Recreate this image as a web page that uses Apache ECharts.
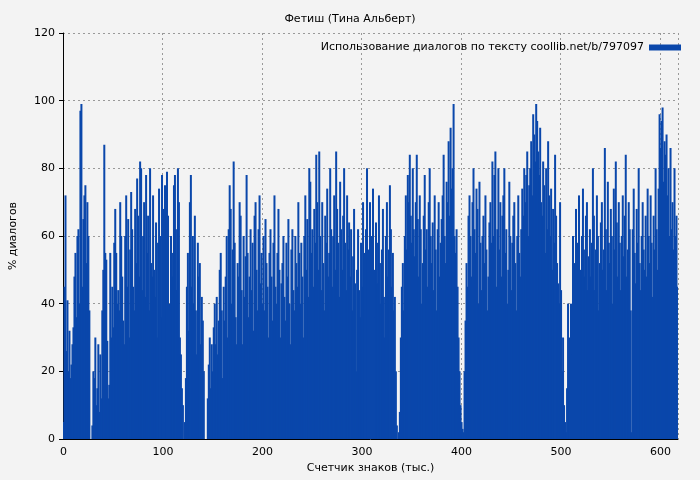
<!DOCTYPE html>
<html><head><meta charset="utf-8">
<script src="https://cdn.jsdelivr.net/npm/echarts@6/dist/echarts.min.js"></script>
<style>html,body{margin:0;padding:0;background:#f3f3f3}#c{width:700px;height:480px}</style>
</head><body><div id="c"></div>
<script>
const values = [
5,45,72,26,41,20,32,18,22,28,
33,48,55,36,60,62,40,97,99,45,
65,72,75,52,70,60,38,0,0,4,
20,18,30,10,15,28,8,25,12,38,
50,87,55,53,29,12,16,55,30,45,
33,58,68,55,40,44,38,70,60,48,
35,28,60,72,45,65,30,56,73,62,
45,38,68,52,77,66,48,82,80,44,
60,70,42,78,55,66,38,80,52,48,
72,50,42,64,30,58,74,60,36,78,
52,68,75,42,79,66,28,40,60,55,
48,75,78,62,44,80,70,30,25,15,
10,0,5,18,45,55,32,70,78,45,
60,40,66,38,25,58,48,52,28,42,
35,20,0,0,0,12,22,30,15,28,
20,33,40,28,42,25,35,50,55,38,
18,45,35,48,60,30,62,75,68,40,
56,82,58,36,28,52,48,70,66,44,
28,60,42,54,78,55,36,48,62,44,
58,32,66,70,50,38,62,72,46,55,
40,60,38,65,52,45,30,55,62,48,
35,58,72,45,40,55,68,50,30,46,
52,60,42,35,58,48,65,40,28,56,
62,44,38,60,52,45,70,55,40,58,
48,30,60,72,50,65,42,80,76,55,
62,45,68,58,84,70,50,85,60,44,
70,52,38,66,58,74,48,55,80,62,
45,60,72,50,85,68,58,42,76,62,
50,66,80,58,44,72,56,64,48,62,
38,54,68,46,20,50,62,44,36,58,
45,70,55,38,62,80,48,56,70,42,
60,74,50,36,64,58,46,72,52,40,
56,68,42,30,60,70,48,56,75,62,
45,55,38,42,20,4,0,2,8,30,
45,52,38,60,72,56,78,70,84,66,
58,80,62,54,70,84,65,48,72,62,
40,52,66,78,56,62,45,70,80,60,
52,64,44,72,56,38,62,70,48,58,
65,72,84,60,52,76,70,88,66,92,
74,80,99,60,55,62,45,30,20,10,
5,3,2,20,35,52,45,66,72,60,
48,70,80,62,55,74,68,40,76,58,
44,60,66,52,72,56,38,48,64,70,
58,82,60,78,85,45,62,80,56,70,
48,66,72,80,55,62,40,50,76,60,
44,58,66,70,52,38,60,72,55,48,
62,74,66,80,70,78,85,60,75,80,
88,72,96,90,82,99,94,85,78,92,
70,66,82,75,55,80,62,88,72,60,
74,50,68,58,84,66,52,46,40,70,
44,20,30,10,5,2,15,40,22,30,
40,25,60,52,42,68,58,46,72,50,
38,60,74,56,48,66,70,44,54,62,
48,58,80,66,44,56,72,60,38,52,
64,70,50,56,86,62,44,76,58,52,
68,60,40,74,56,82,64,48,70,58,
44,60,72,54,66,84,48,56,70,62,
38,2,62,74,55,46,68,58,80,52,
44,60,70,56,50,66,48,74,60,52,
72,58,42,66,56,80,62,50,74,96,
86,94,98,76,88,84,90,72,80,60,
86,62,70,56,80,60,66,45
];
const categories = values.map((v,i)=>String(i));
const seriesName = 'Использование диалогов по тексту coollib.net/b/797097';
const chart = echarts.init(document.getElementById('c'));
const every100 = (i)=> i % 100 === 0;
chart.setOption({
  backgroundColor:'#f3f3f3',
  animation:false,
  title:{text:'Фетиш (Тина Альберт)',left:'center',top:9,textStyle:{fontSize:11,fontWeight:'normal',color:'#000',fontFamily:'DejaVu Sans'}},
  legend:{right:14,top:37,align:'right',itemWidth:32,itemHeight:6,icon:'rect',textStyle:{fontSize:11,color:'#000',fontFamily:'DejaVu Sans'}},
  grid:{left:60,right:22,top:33,bottom:41},
  xAxis:{type:'category',data:categories,boundaryGap:true,
    name:'Счетчик знаков (тыс.)',nameLocation:'middle',nameGap:22,nameTextStyle:{fontSize:11,color:'#000',fontFamily:'DejaVu Sans'},
    axisLine:{lineStyle:{color:'#000'}},
    axisTick:{interval:every100,length:4,lineStyle:{color:'#000'}},
    axisLabel:{interval:every100,fontSize:11,color:'#000',fontFamily:'DejaVu Sans'},
    splitLine:{show:true,interval:every100,lineStyle:{color:'#999',type:[2,3]}}},
  yAxis:{type:'value',min:0,max:120,interval:20,
    name:'% диалогов',nameLocation:'middle',nameGap:44,nameTextStyle:{fontSize:11,color:'#000',fontFamily:'DejaVu Sans'},
    axisLine:{show:true,lineStyle:{color:'#000'}},
    axisTick:{show:true,length:4,lineStyle:{color:'#000'}},
    axisLabel:{fontSize:11,color:'#000',fontFamily:'DejaVu Sans'},
    splitLine:{lineStyle:{color:'#999',type:[2,3]}}},
  series:[{name:seriesName,type:'bar',data:values,barWidth:2,itemStyle:{color:'#0a47ab'}}]
});
</script></body></html>
